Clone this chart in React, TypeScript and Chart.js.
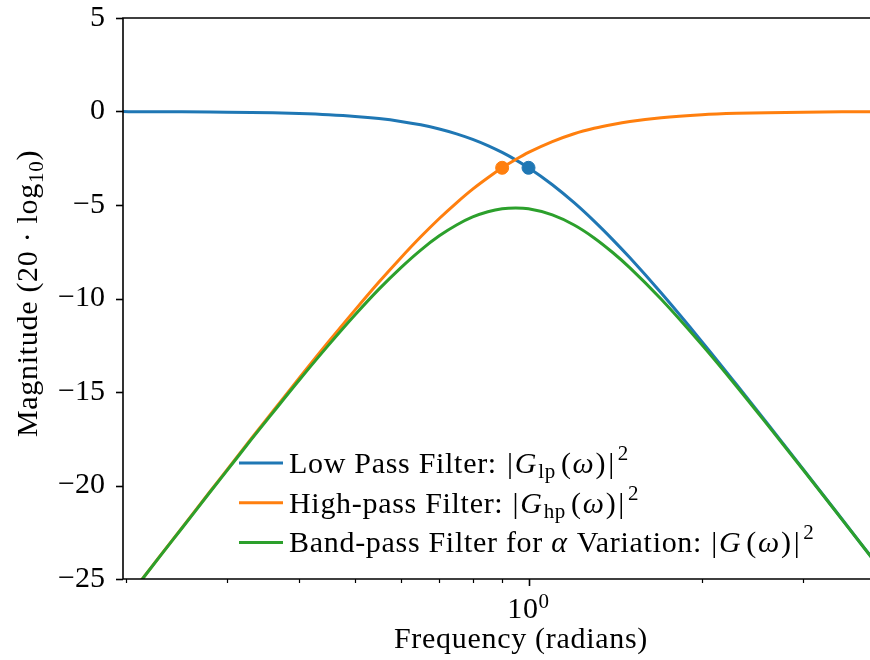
import React, { useEffect, useRef } from "react";
import { Chart, registerables } from "chart.js";

Chart.register(...registerables);

// ---- data ----
const freq = [0.196, 0.21, 0.23, 0.25, 0.28, 0.3, 0.33, 0.36, 0.4, 0.45, 0.5, 0.55, 0.6, 0.65, 0.7, 0.75, 0.8, 0.85, 0.9, 0.95, 1.0, 1.1, 1.2, 1.3, 1.4, 1.5, 1.7, 2.0, 2.3, 2.6, 3.0, 3.5, 3.95];
const lowPass = [-0.006, -0.008, -0.012, -0.017, -0.027, -0.035, -0.051, -0.072, -0.11, -0.175, -0.263, -0.38, -0.53, -0.713, -0.934, -1.194, -1.491, -1.824, -2.19, -2.588, -3.01, -3.917, -4.877, -5.862, -6.85, -7.826, -9.709, -12.304, -14.621, -16.694, -19.138, -21.791, -23.882];
const highPass = [-26.49, -25.29, -23.71, -22.28, -20.32, -19.14, -17.5, -16.03, -14.25, -12.3, -10.61, -9.12, -7.83, -6.7, -5.72, -4.88, -4.15, -3.54, -3.01, -2.57, -2.19, -1.61, -1.19, -0.9, -0.69, -0.53, -0.33, -0.175, -0.1, -0.062, -0.035, -0.019, -0.012];
const bandPass = [-26.5, -25.3, -23.72, -22.3, -20.35, -19.18, -17.55, -16.1, -14.36, -12.48, -10.87, -9.5, -8.36, -7.41, -6.65, -6.07, -5.64, -5.36, -5.2, -5.16, -5.2, -5.53, -6.07, -6.76, -7.54, -8.36, -10.04, -12.48, -14.72, -16.76, -19.17, -21.81, -23.89];
const lowCutoff = { x: 1.0, y: -3.01 };
const highCutoff = { x: 0.9, y: -3.01 };

const xMin = 0.1977;
const xMax = 3.916;
const yMin = -25;
const yMax = 5;
const yTicks = [-25, -20, -15, -10, -5, 0, 5];
const xMajorTicks = [1];
const xMinorTicks = [0.2, 0.3, 0.4, 0.5, 0.6, 0.7, 0.8, 0.9, 2, 3];

const BLUE = "#1f77b4";
const ORANGE = "#ff7f0e";
const GREEN = "#2ca02c";
const FONT = '"Liberation Serif", "Times New Roman", serif';
const FS = 30;
const FS_SMALL = 21;
const SPACING = "0.7px";

type Part = { t: string; it?: boolean; small?: boolean; dy?: number; gap?: number };

function setFont(ctx: CanvasRenderingContext2D, p: Part) {
  ctx.font = `${p.it ? "italic " : ""}${p.small ? FS_SMALL : FS}px ${FONT}`;
  (ctx as any).letterSpacing = SPACING;
}

function measureRich(ctx: CanvasRenderingContext2D, parts: Part[]) {
  let w = 0;
  for (const p of parts) {
    setFont(ctx, p);
    w += ctx.measureText(p.t).width + (p.gap || 0);
  }
  return w;
}

function drawRich(ctx: CanvasRenderingContext2D, x: number, y: number, parts: Part[]) {
  let cx = x;
  for (const p of parts) {
    setFont(ctx, p);
    ctx.fillText(p.t, cx, y + (p.dy || 0));
    cx += ctx.measureText(p.t).width + (p.gap || 0);
  }
  return cx;
}

const mathTail: Part[] = [
  { t: "(", gap: 1 },
  { t: "ω", it: true, gap: 1 },
  { t: ")", gap: 2 },
  { t: "|", gap: 3 },
  { t: "2", small: true, dy: -13 },
];

const legendRows: { color: string; parts: Part[] }[] = [
  {
    color: BLUE,
    parts: [
      { t: "Low Pass Filter: ", gap: 2 },
      { t: "|", gap: 1 },
      { t: "G", it: true, gap: 1 },
      { t: "lp", small: true, dy: 5, gap: 5 },
      ...mathTail,
    ],
  },
  {
    color: ORANGE,
    parts: [
      { t: "High-pass Filter: ", gap: 1 },
      { t: "|", gap: 1 },
      { t: "G", it: true, gap: 1 },
      { t: "hp", small: true, dy: 5, gap: 5 },
      ...mathTail,
    ],
  },
  {
    color: GREEN,
    parts: [
      { t: "Band-pass Filter for " },
      { t: "α", it: true, gap: 1 },
      { t: " Variation: ", gap: 1 },
      { t: "|", gap: 1 },
      { t: "G", it: true, gap: 5 },
      ...mathTail,
    ],
  },
];

const overlay = {
  id: "overlay",
  afterDraw(chart: any) {
    const { ctx, chartArea: a, scales } = chart;
    const x = scales.x;
    const y = scales.y;
    ctx.save();
    ctx.strokeStyle = "#000";
    ctx.fillStyle = "#000";
    ctx.lineCap = "butt";

    // spines (left, bottom, top)
    ctx.lineWidth = 1.6;
    ctx.beginPath();
    ctx.moveTo(a.right + 2, a.top);
    ctx.lineTo(a.left, a.top);
    ctx.lineTo(a.left, a.bottom);
    ctx.lineTo(a.right + 2, a.bottom);
    ctx.stroke();

    // y ticks
    for (const v of yTicks) {
      const py = Math.round(y.getPixelForValue(v)) + 0.5;
      ctx.beginPath();
      ctx.moveTo(a.left - 7, py);
      ctx.lineTo(a.left, py);
      ctx.stroke();
    }
    // x major ticks
    for (const v of xMajorTicks) {
      const px = Math.round(x.getPixelForValue(v)) + 0.5;
      ctx.beginPath();
      ctx.moveTo(px, a.bottom);
      ctx.lineTo(px, a.bottom + 7);
      ctx.stroke();
    }
    // x minor ticks
    ctx.lineWidth = 1.2;
    for (const v of xMinorTicks) {
      const px = Math.round(x.getPixelForValue(v)) + 0.5;
      ctx.beginPath();
      ctx.moveTo(px, a.bottom);
      ctx.lineTo(px, a.bottom + 4);
      ctx.stroke();
    }

    // x tick label 10^0
    ctx.textBaseline = "alphabetic";
    ctx.textAlign = "left";
    {
      const px = x.getPixelForValue(1);
      const parts: Part[] = [{ t: "10" }, { t: "0", small: true, dy: -10 }];
      const w = measureRich(ctx, parts);
      drawRich(ctx, px - w / 2, a.bottom + 39, parts);
    }

    // x title
    {
      const parts: Part[] = [{ t: "Frequency (radians)" }];
      const w = measureRich(ctx, parts);
      drawRich(ctx, 521 - w / 2, a.bottom + 69, parts);
    }

    // y title (rotated)
    ctx.save();
    ctx.translate(37, (a.top + a.bottom) / 2 - 5);
    ctx.rotate(-Math.PI / 2);
    const yparts: Part[] = [{ t: "Magnitude (20 · log" }, { t: "10", small: true, dy: 6 }, { t: ")" }];
    const tw = measureRich(ctx, yparts);
    drawRich(ctx, -tw / 2, 0, yparts);
    ctx.restore();

    // legend
    const lx0 = a.left + 116;
    const lx1 = a.left + 160;
    const tx = a.left + 166;
    const rowY0 = a.top + 445;
    const rowGap = 39.7;
    legendRows.forEach((row, i) => {
      const ly = rowY0 + i * rowGap;
      ctx.strokeStyle = row.color;
      ctx.lineWidth = 3;
      ctx.beginPath();
      ctx.moveTo(lx0, ly);
      ctx.lineTo(lx1, ly);
      ctx.stroke();
      ctx.fillStyle = "#000";
      drawRich(ctx, tx, ly + 10, row.parts);
    });

    ctx.restore();
  },
};

export default function App() {
  const ref = useRef<HTMLCanvasElement | null>(null);

  useEffect(() => {
    document.body.style.margin = "0";
    const canvas = ref.current;
    if (!canvas) return;
    const pts = (ys: number[]) => freq.map((f, i) => ({ x: f, y: ys[i] }));
    const line = (label: string, ys: number[], color: string, order: number) => ({
      label,
      data: pts(ys),
      borderColor: color,
      borderWidth: 3,
      pointRadius: 0,
      cubicInterpolationMode: "monotone",
      order,
      clip: 0,
    });
    const marker = (label: string, p: { x: number; y: number }, color: string) => ({
      label,
      data: [p],
      showLine: false,
      pointRadius: 6.5,
      pointBorderWidth: 1,
      pointBackgroundColor: color,
      pointBorderColor: color,
      order: 0,
    });
    const chart = new Chart(canvas, {
      type: "line",
      data: {
        datasets: [
          line("Low Pass Filter", lowPass, BLUE, 3),
          line("High-pass Filter", highPass, ORANGE, 2),
          line("Band-pass Filter for α Variation", bandPass, GREEN, 1),
          marker("low cutoff", lowCutoff, BLUE),
          marker("high cutoff", highCutoff, ORANGE),
        ],
      } as any,
      options: {
        animation: false,
        responsive: false,
        devicePixelRatio: 1,
        layout: { autoPadding: false, padding: { top: 18, left: 0, right: 0, bottom: 0 } },
        plugins: { legend: { display: false }, tooltip: { enabled: false } },
        scales: {
          x: {
            type: "logarithmic",
            min: xMin,
            max: xMax,
            grid: { display: false },
            border: { display: false },
            ticks: { display: false },
            afterFit: (s: any) => {
              s.height = 81;
              s.paddingLeft = 0;
              s.paddingRight = 0;
            },
          },
          y: {
            type: "linear",
            min: yMin,
            max: yMax,
            grid: { display: false },
            border: { display: false },
            afterBuildTicks: (s: any) => {
              s.ticks = yTicks.map((v) => ({ value: v }));
            },
            ticks: {
              color: "#000",
              padding: 10,
              font: { family: FONT, size: FS },
              callback: (v: any) => String(v).replace("-", "\u2212"),
            },
            afterFit: (s: any) => {
              s.width = 123;
              s.paddingTop = 0;
              s.paddingBottom = 0;
            },
          },
        },
      } as any,
      plugins: [overlay],
    });
    return () => chart.destroy();
  }, []);

  return (
    <div style={{ width: 870, height: 660, position: "relative", overflow: "hidden" }}>
      <canvas ref={ref} width={870} height={660} />
    </div>
  );
}
